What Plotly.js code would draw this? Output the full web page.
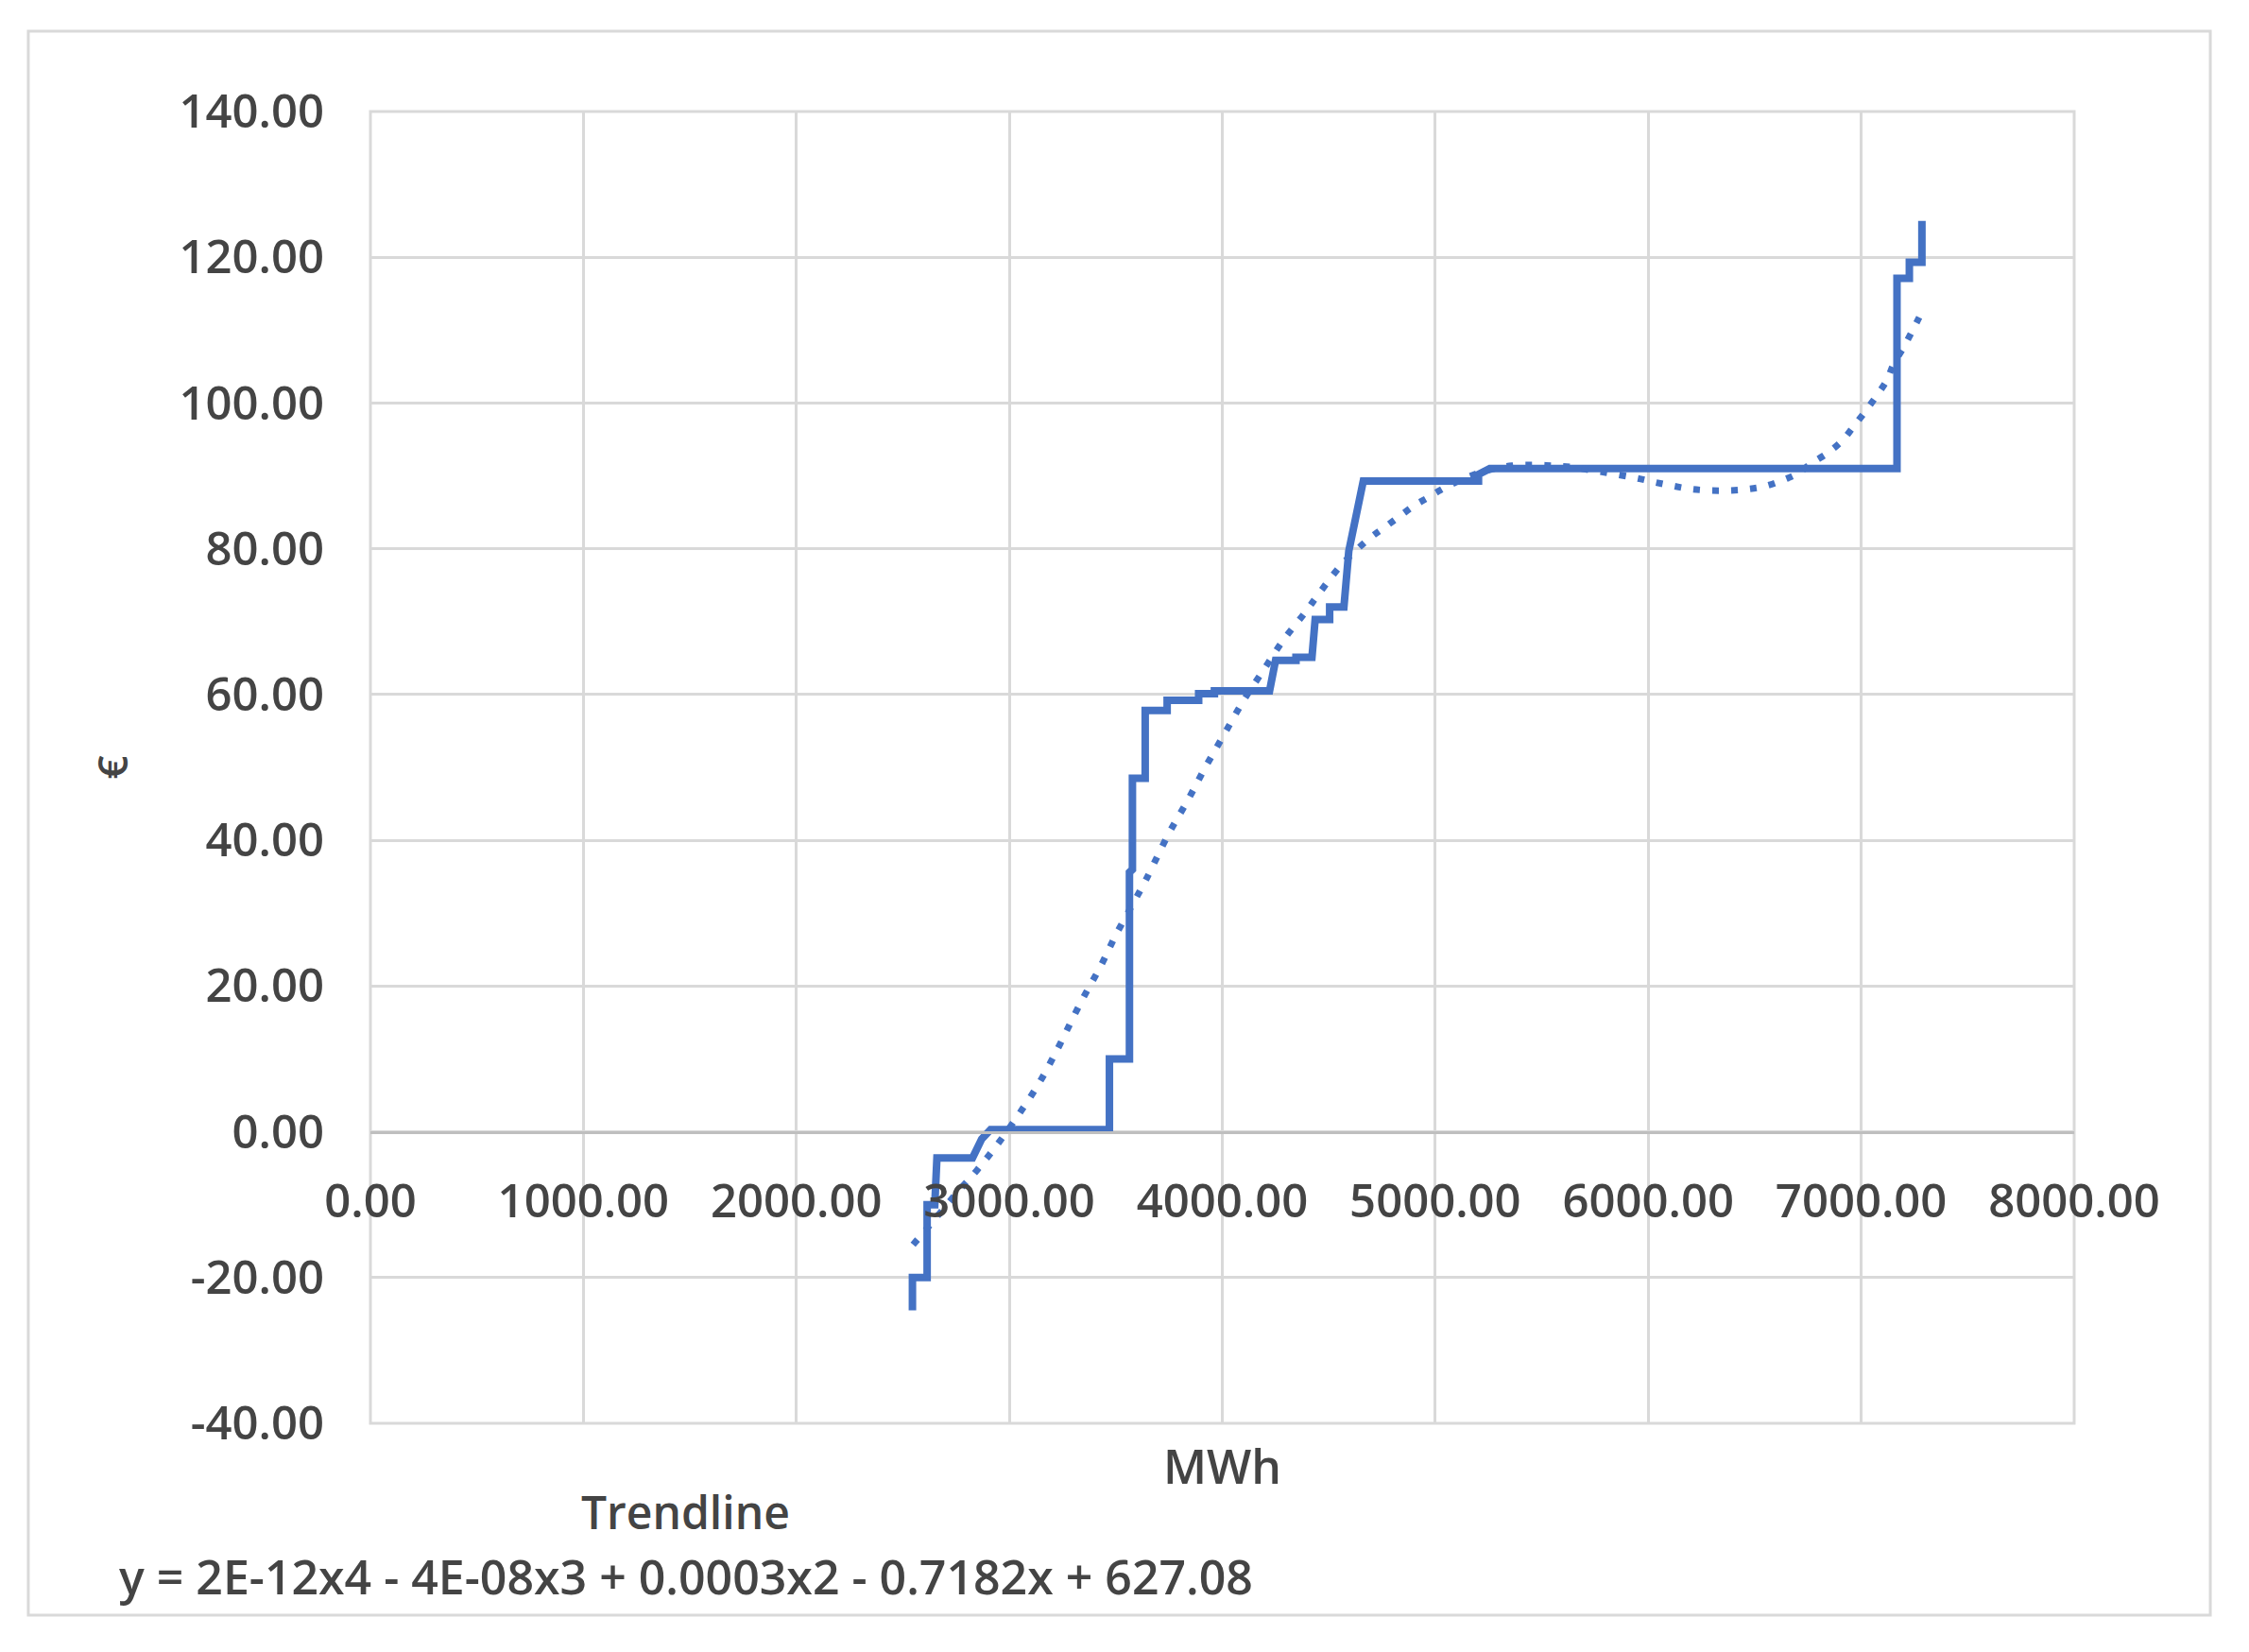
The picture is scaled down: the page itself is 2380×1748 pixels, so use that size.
<!DOCTYPE html>
<html>
<head>
<meta charset="utf-8">
<script src="https://cdn.plot.ly/plotly-3.0.1.min.js"></script>
<style>html,body{margin:0;padding:0;background:#fff;}#chart{width:2380px;height:1748px;}</style>
</head>
<body>
<div id="chart"></div>
<script>
// Step curve (MWh, €)
const stepMWh = [2545,2545,2614,2614,2650,2660,2827,2870,2912,3470,3470,3564,3564,3578,3578,3638,3638,3741,3741,3889,3889,3963,3963,4222,4250,4346,4346,4421,4436,4504,4504,4571,4594,4662,5203,5203,5256,7168,7168,7226,7226,7285,7285];
const stepEUR = [-24.5,-20,-20,-10,-10,-3.6,-3.6,-1,0.3,0.3,10,10,35.6,36,48.5,48.5,57.8,57.8,59.2,59.2,60.1,60.1,60.5,60.5,64.7,64.7,65.1,65.1,70.3,70.3,72,72,79.7,89.3,89.3,90.2,91.0,91.0,117.1,117.1,119.3,119.3,125];
// Polynomial trendline
const trendMWh = [2548,2650,2750,2850,2950,3040,3140,3220,3340,3430,3500,3590,3640,3750,3840,3920,4010,4100,4190,4290,4390,4450,4560,4690,4760,4830,4900,4970,5045,5150,5250,5360,5460,5550,5640,5750,5870,5960,6035,6120,6200,6290,6380,6470,6550,6630,6700,6770,6840,6910,6960,7015,7070,7120,7150,7200,7240,7285];
const trendEUR = [-15.5,-12,-8.5,-5.2,-1.5,2.2,6.7,11,18,22.8,27,31.8,34.5,41,45.6,50,54.6,59.2,63.2,67.6,71.3,73.7,77.8,81.4,82.9,84.4,85.9,87.1,88.4,89.8,90.8,91.4,91.5,91.4,91.2,90.7,90.1,89.6,89.1,88.6,88.2,88.0,88.0,88.2,88.6,89.4,90.3,91.8,93.1,94.8,96.6,98.7,100.9,103.1,105.2,107.7,109.9,112.5];
// Tick labels
const xTickVals = [0,1000,2000,3000,4000,5000,6000,7000,8000];
const xTickText = ["0.00","1000.00","2000.00","3000.00","4000.00","5000.00","6000.00","7000.00","8000.00"];
const yTickVals = [-40,-20,0,20,40,60,80,100,120,140];
const yTickText = ["-40.00","-20.00","0.00","20.00","40.00","60.00","80.00","100.00","120.00","140.00"];
const xTitle = "MWh";
const yTitle = "€";
const trendName = "Trendline";
const trendEquation = "y = 2E-12x4 - 4E-08x3 + 0.0003x2 - 0.7182x + 627.08";

const blue = "#4472C4";
const grid = "#d9d9d9";
const txt = "#444444";
const FONT = "Open Sans, Noto Sans, sans-serif";

const traces = [
  {x: stepMWh, y: stepEUR, type: "scatter", mode: "lines", name: "Price",
   line: {color: blue, width: 8}},
  {x: trendMWh, y: trendEUR, type: "scatter", mode: "lines", name: trendName,
   line: {color: blue, width: 7, dash: "7px,13px", shape: "spline"}}
];

const layout = {
  width: 2380, height: 1748,
  margin: {l: 392, r: 185, t: 118, b: 242},
  paper_bgcolor: "#fff", plot_bgcolor: "#fff",
  showlegend: false,
  font: {family: FONT, color: txt, size: 48},
  xaxis: {
    range: [0, 8000], tickmode: "array", tickvals: xTickVals, ticktext: xTickText,
    anchor: "free", position: 40/180,
    showgrid: true, gridcolor: grid, gridwidth: 3,
    showline: true, linecolor: "#bfbfbf", linewidth: 3,
    zeroline: false, ticks: "", ticklabelstandoff: 30,
    tickfont: {family: FONT, size: 49, color: txt, weight: 600},
    title: {text: xTitle, standoff: 233, font: {family: FONT, size: 50, color: txt, weight: 600}},
    automargin: false
  },
  yaxis: {
    range: [-40, 140], tickmode: "array", tickvals: yTickVals, ticktext: yTickText,
    showgrid: true, gridcolor: grid, gridwidth: 3,
    showline: false, zeroline: false, ticks: "", ticklabelstandoff: 48,
    tickfont: {family: FONT, size: 49, color: txt, weight: 600},
    title: {text: yTitle, standoff: 40, font: {family: FONT, size: 44, color: txt, weight: 600}},
    automargin: false
  },
  shapes: [
    {type: "rect", xref: "paper", yref: "paper", x0: 0, x1: 1, y0: 0, y1: 1,
     line: {color: grid, width: 3}, layer: "below"},
    {type: "rect", xref: "paper", yref: "paper", x0: -0.2008, x1: 1.0799, y0: -0.1463, y1: 1.0612,
     line: {color: grid, width: 3}, layer: "below"}
  ],
  annotations: [
    {xref: "paper", yref: "paper", x: 0.1852, y: -0.0677, text: trendName, showarrow: false,
     xanchor: "center", yanchor: "middle", font: {family: FONT, size: 48, color: txt, weight: 600}},
    {xref: "paper", yref: "paper", x: 0.1852, y: -0.1167, text: trendEquation, showarrow: false,
     xanchor: "center", yanchor: "middle", font: {family: FONT, size: 50, color: txt, weight: 600}}
  ]
};

Plotly.newPlot("chart", traces, layout, {displayModeBar: false, staticPlot: true});
</script>
</body>
</html>
